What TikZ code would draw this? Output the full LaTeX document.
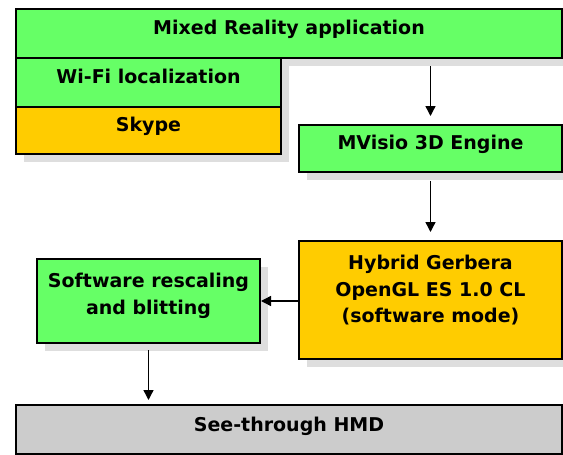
\documentclass[tikz,border=0pt]{standalone}
\usepackage{fontspec}
\setmainfont{DejaVu Sans}
\usepackage{tikz}
\usetikzlibrary{arrows.meta, positioning, shadows}

\definecolor{layergreen}{HTML}{66FF66}
\definecolor{layerorange}{HTML}{FFCC00}
\definecolor{layergray}{HTML}{CCCCCC}

\tikzset{
    layer/.style={draw, line width=1.5pt, outer sep=0pt, inner sep=0pt, anchor=north west,
        drop shadow={shadow xshift=8pt, shadow yshift=-8pt, fill=black!13, opacity=1}},
    layertext/.style={anchor=north, yshift=-8pt, inner sep=3pt, align=center,
        font=\bfseries\fontsize{19}{26.5}\selectfont},
    flow/.style={line width=1.4pt, -{Triangle[length=10pt,width=10pt]}},
}

\begin{document}
\begin{tikzpicture}[x=1pt,y=-1pt]
        \useasboundingbox (0,0) rectangle (563,455);

        % application side
        \node[layer, fill=layergreen, minimum width=546, minimum height=49,
              label={[layertext]north:Mixed Reality application}]          (app)     at (16,9)                   {};
        \node[layer, fill=layergreen, minimum width=265, minimum height=49,
              label={[layertext]north:Wi-Fi localization}]                 (wifi)    [below right=0pt of app.south west] {};
        \node[layer, fill=layerorange, minimum width=265, minimum height=47,
              label={[layertext, yshift=1.5pt]north:Skype}]                (skype)   [below=0pt of wifi]         {};

        % rendering pipeline
        \node[layer, fill=layergreen, minimum width=263, minimum height=47,
              label={[layertext, yshift=1.5pt]north:MVisio 3D Engine}]     (mvisio)  at (299,125)                {};
        \node[layer, fill=layerorange, minimum width=263, minimum height=118,
              label={[layertext, yshift=-3pt]north:Hybrid Gerbera\\OpenGL ES 1.0 CL\\(software mode)}]
                                                                           (gerbera) [below=69pt of mvisio]      {};
        \node[layer, fill=layergreen, minimum width=223, minimum height=84,
              label={[layertext, yshift=-3pt]north:Software rescaling\\and blitting}]
                                                                           (rescale) at (37,259)                 {};

        % display
        \node[layer, fill=layergray, minimum width=546, minimum height=49,
              label={[layertext, yshift=-1pt]north:See-through HMD}]       (hmd)     at (16,405)                 {};

        \path[flow]
        (app.south -| mvisio.north) edge [shorten <=8pt, shorten >=9pt] (mvisio.north)
        (mvisio.south) edge [shorten <=9pt, shorten >=9pt] (gerbera.north)
        (gerbera.west |- rescale.east) edge [shorten >=1pt] (rescale.east)
        (rescale.south) edge [shorten <=7pt, shorten >=5pt] (rescale.south |- hmd.north)
        ;
\end{tikzpicture}
\end{document}
